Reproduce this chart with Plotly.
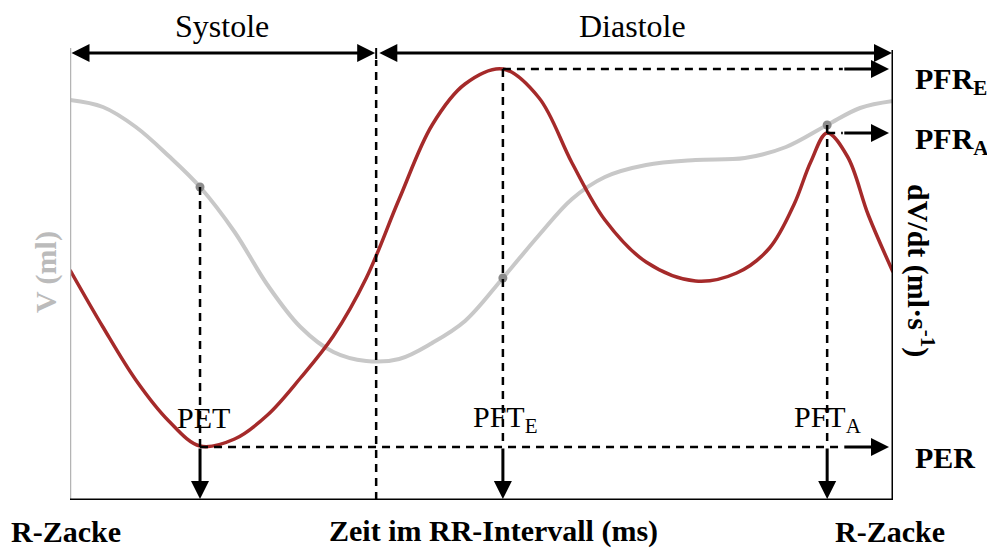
import plotly.graph_objects as go

# ---------------- data ----------------
# time within the RR interval (ms, RR = 1000 ms)
t_dvdt = [0, 40, 80, 120, 158, 200, 240, 280, 320, 360, 400, 440, 480, 526,
          570, 610, 650, 700, 760, 810, 850, 880, 900, 920, 945, 970, 1000]
dvdt = [230, 173, 120, 79, 54, 61, 85, 122, 164, 222, 301, 375, 416, 431,
        402, 337, 280, 238, 219, 227, 252, 296, 338, 367, 343, 285, 228]

t_vol = [0, 40, 80, 120, 158, 200, 240, 280, 320, 360, 400, 440, 480, 526,
         570, 610, 650, 700, 760, 820, 870, 920, 960, 1000]
vol = [400, 393, 373, 344, 313, 268, 215, 173, 148, 139, 141, 157, 179, 222,
       265, 301, 323, 335, 340, 342, 353, 375, 392, 399]

RR_END = 1000
T_END_SYSTOLE = 372
PET_T, PER_V, V_AT_PET = 158, 53, 313
PFTE_T, PFRE_V, V_AT_PFTE = 526, 431, 222
PFTA_T, PFRA_V, V_AT_PFTA = 920, 367, 375
ARROW_START = 939
Y_TOP = 452
TOP_ARROW_Y = 447

# ---------------- figure ----------------
RED = "#A52A2A"
GRAY = "#C8C8C8"
FONT = "Liberation Serif"

fig = go.Figure()
fig.add_trace(go.Scatter(x=t_vol, y=vol, mode="lines", line=dict(color=GRAY, width=4, shape="spline", smoothing=1),
                         yaxis="y", hoverinfo="skip", showlegend=False))
fig.add_trace(go.Scatter(x=t_dvdt, y=dvdt, mode="lines", line=dict(color=RED, width=3.5, shape="spline", smoothing=1),
                         yaxis="y2", hoverinfo="skip", showlegend=False))
fig.add_trace(go.Scatter(x=[PET_T, PFTE_T, PFTA_T], y=[V_AT_PET, V_AT_PFTE, V_AT_PFTA], mode="markers",
                         marker=dict(color="#8C8C8C", size=9), yaxis="y", hoverinfo="skip", showlegend=False))

shapes = []
def seg(x0, y0, x1, y1, color="black", width=2.5, dash="8px,6px"):
    shapes.append(dict(type="line", xref="x", yref="y", x0=x0, y0=y0, x1=x1, y1=y1,
                       line=dict(color=color, width=width, dash=dash), layer="above"))

# frame
seg(0, 0, 0, Y_TOP, color="#B4B4B4", width=2.5, dash="solid")
seg(RR_END, 0, RR_END, Y_TOP - 2, width=3, dash="solid")
seg(0, 0, RR_END, 0, width=3, dash="solid")
# end-systole marker
seg(T_END_SYSTOLE, 0, T_END_SYSTOLE, 440)
seg(T_END_SYSTOLE, 441, T_END_SYSTOLE, Y_TOP, width=2, dash="solid")
# PET / PFT verticals
seg(PET_T, V_AT_PET, PET_T, PER_V)
seg(PFTE_T, PFRE_V, PFTE_T, PER_V)
seg(PFTA_T, V_AT_PFTA, PFTA_T, PER_V)
# horizontals
seg(PFTE_T, PFRE_V, ARROW_START, PFRE_V)
seg(PFTA_T, PFRA_V, ARROW_START, PFRA_V)
seg(PET_T, PER_V, ARROW_START, PER_V)

ann = []
def arrow(x0, y0, x1, y1, both=False, standoff=2):
    ann.append(dict(x=x1, y=y1, ax=x0, ay=y0, xref="x", yref="y", axref="x", ayref="y",
                    text="", showarrow=True, arrowhead=2, arrowsize=1.2, arrowwidth=3,
                    arrowcolor="black", standoff=standoff, startstandoff=0,
                    arrowside="end+start" if both else "end"))

arrow(0, TOP_ARROW_Y, T_END_SYSTOLE, TOP_ARROW_Y, both=True, standoff=1)
arrow(T_END_SYSTOLE + 2, TOP_ARROW_Y, RR_END, TOP_ARROW_Y, both=True, standoff=1)
for tt in [PET_T, PFTE_T, PFTA_T]:
    arrow(tt, PER_V, tt, 0, standoff=1)
for vv in [PFRE_V, PFRA_V, PER_V]:
    arrow(ARROW_START, vv, RR_END, vv, standoff=4)

L, R, T, B = 70, 94, 48, 50
PW, PH = 987 - L - R, 550 - T - B
def px(xp, yp):
    return (xp - L) / PW, (550 - B - yp) / PH

def label(text, xp, yp, size=30, color="black", angle=0, xanchor="center", bold=False):
    x, y = px(xp, yp)
    if bold:
        text = "<b>" + text + "</b>"
    ann.append(dict(x=x, y=y, xref="paper", yref="paper", text=text, showarrow=False,
                    xanchor=xanchor, yanchor="middle", textangle=angle,
                    font=dict(family=FONT, size=size, color=color)))

label("Systole", 222, 26, size=32)
label("Diastole", 632, 26, size=32)
label("PET", 203, 417)
label("PFT<sub>E</sub>", 505, 419)
label("PFT<sub>A</sub>", 828, 419)
label("PFR<sub>E</sub>", 913, 81, xanchor="left", bold=True)
label("PFR<sub>A</sub>", 913, 141, xanchor="left", bold=True)
label("PER", 913, 457, xanchor="left", bold=True)
label("dV/dt (ml·s<sup>-1</sup>)", 921, 270, angle=90, bold=True)
label("V (ml)", 46, 272, color="#BBBBBB", angle=-90, bold=True)
label("R-Zacke", 66, 531, bold=True)
label("Zeit im RR-Intervall (ms)", 494, 531, bold=True)
label("R-Zacke", 890, 531, bold=True)

axis_common = dict(showgrid=False, zeroline=False, showticklabels=False, showline=False, ticks="")
fig.update_layout(
    width=987, height=550, margin=dict(l=L, r=R, t=T, b=B),
    paper_bgcolor="white", plot_bgcolor="white",
    xaxis=dict(range=[0, RR_END], **axis_common),
    yaxis=dict(range=[0, Y_TOP], **axis_common),
    yaxis2=dict(range=[0, Y_TOP], overlaying="y", side="right", **axis_common),
    shapes=shapes, annotations=ann, showlegend=False,
    font=dict(family=FONT, size=30, color="black"),
)
fig.write_html("out.html")
